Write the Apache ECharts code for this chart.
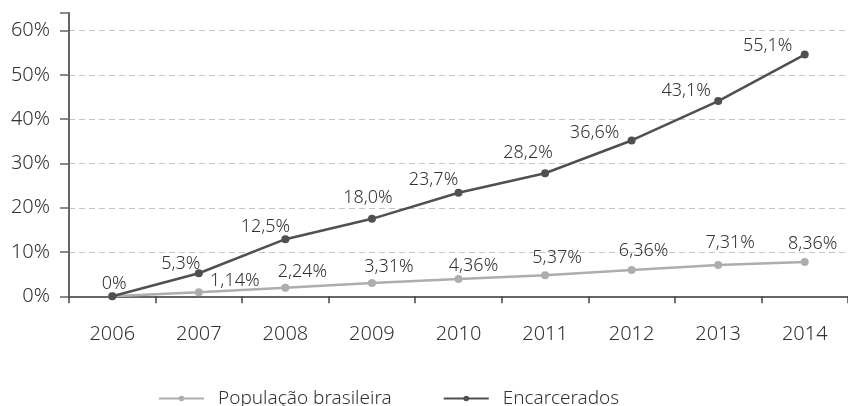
<!DOCTYPE html>
<html>
<head>
<meta charset="utf-8">
<script src="https://cdn.jsdelivr.net/npm/echarts@6/dist/echarts.min.js"></script>
<style>
html,body{margin:0;padding:0;background:#fff;}
#chart{width:848px;height:406px;}
</style>
</head>
<body>
<div id="chart"></div>
<script>
const years = ['2006','2007','2008','2009','2010','2011','2012','2013','2014'];
const populacao = [0, 0.9, 1.95, 3.0, 3.9, 4.75, 5.95, 7.08, 7.76];
const populacaoLabels = ['', '1,14%', '2,24%', '3,31%', '4,36%', '5,37%', '6,36%', '7,31%', '8,36%'];
const encarcerados = [0, 5.2, 12.9, 17.5, 23.4, 27.8, 35.2, 44.1, 54.6];
const encarceradosLabels = ['0%', '5,3%', '12,5%', '18,0%', '23,7%', '28,2%', '36,6%', '43,1%', '55,1%'];
const yTicks = [0, 10, 20, 30, 40, 50, 60];

// label placement (offset of label centre from its point, in px)
const popLabelOffsets = [[0, 0], [36, -11], [17, -16], [17, -16], [15, -13], [12, -17], [12, -19], [12, -22], [8, -18]];
const encLabelOffsets = [[2, -12], [-18, -9], [-20, -12], [-4, -21], [-25, -13], [-17, -20], [-37, -8], [-32, -10], [-37, -9]];

const FONT = '"Noto Sans", sans-serif';
const TEXT = '#333';
const chart = echarts.init(document.getElementById('chart'));

function build(values, labels, offsets) {
  return values.map((v, i) => ({
    value: v,
    label: { formatter: labels[i], offset: offsets[i] }
  }));
}

chart.setOption({
  animation: false,
  textStyle: { fontFamily: FONT },
  grid: { left: 69, top: 13, width: 784, height: 283.3, containLabel: false },
  legend: {
    top: 384,
    left: 153,
    itemWidth: 45,
    itemHeight: 7,
    itemGap: 51,
    textStyle: { fontSize: 19, color: TEXT, fontFamily: FONT, fontWeight: 300, padding: [0, 0, 0, 9] },
    data: ['População brasileira', 'Encarcerados']
  },
  xAxis: {
    type: 'category',
    data: years,
    boundaryGap: true,
    axisLine: { lineStyle: { color: '#666', width: 2 } },
    axisTick: { show: true, length: 7, inside: false, lineStyle: { color: '#444', width: 1.5 } },
    axisLabel: { fontSize: 20, color: TEXT, margin: 28, fontFamily: FONT, fontWeight: 300 }
  },
  yAxis: {
    type: 'value',
    min: 0,
    max: 64,
    interval: 10,
    axisLine: { show: true, lineStyle: { color: '#666', width: 2 } },
    axisTick: { show: true, length: 9, lineStyle: { color: '#666', width: 1.5 } },
    axisLabel: {
      fontSize: 20, color: TEXT, margin: 19, fontFamily: FONT, fontWeight: 300,
      formatter: v => (yTicks.indexOf(v) >= 0 ? v + '%' : '')
    },
    splitLine: {
      show: true,
      lineStyle: {
        type: [6, 4],
        width: 1,
        color: ['#c4c4c4', '#c4c4c4', '#c4c4c4', '#c4c4c4', '#c4c4c4', '#c4c4c4', '#c4c4c4', 'rgba(0,0,0,0)']
      }
    }
  },
  series: [
    {
      name: 'População brasileira',
      type: 'line',
      data: build(populacao, populacaoLabels, popLabelOffsets),
      symbol: 'circle',
      symbolSize: 8,
      lineStyle: { color: '#adadad', width: 2.5 },
      itemStyle: { color: '#adadad' },
      label: { show: true, position: 'inside', fontSize: 18, color: TEXT, fontFamily: FONT, fontWeight: 300 },
      z: 2
    },
    {
      name: 'Encarcerados',
      type: 'line',
      data: build(encarcerados, encarceradosLabels, encLabelOffsets),
      symbol: 'circle',
      symbolSize: 8,
      lineStyle: { color: '#505050', width: 2.5 },
      itemStyle: { color: '#505050' },
      label: { show: true, position: 'inside', fontSize: 18, color: TEXT, fontFamily: FONT, fontWeight: 300 },
      z: 3
    }
  ]
});
</script>
</body>
</html>
